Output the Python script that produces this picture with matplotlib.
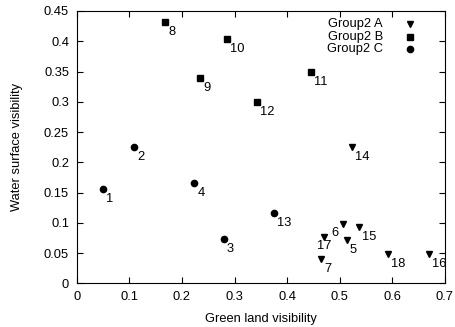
import matplotlib
matplotlib.use("Agg")
import matplotlib.pyplot as plt
from matplotlib.lines import Line2D

# Group2 A (triangles)
a_ids = [5, 6, 7, 14, 15, 16, 17, 18]
a_x = [0.513, 0.506, 0.465, 0.524, 0.536, 0.670, 0.470, 0.592]
a_y = [0.0714, 0.0973, 0.0406, 0.2254, 0.0924, 0.0483, 0.0769, 0.0489]
# Group2 B (squares)
b_ids = [8, 9, 10, 11, 12]
b_x = [0.168, 0.235, 0.285, 0.445, 0.343]
b_y = [0.4317, 0.340, 0.404, 0.350, 0.300]
# Group2 C (circles)
c_ids = [1, 2, 3, 4, 13]
c_x = [0.0506, 0.109, 0.280, 0.2236, 0.3745]
c_y = [0.156, 0.2254, 0.0726, 0.165, 0.1165]

series_names = ['Group2 A', 'Group2 B', 'Group2 C']
xticks = [0, 0.1, 0.2, 0.3, 0.4, 0.5, 0.6, 0.7]
yticks = [0, 0.05, 0.1, 0.15, 0.2, 0.25, 0.3, 0.35, 0.4, 0.45]

plt.rcParams['font.family'] = ['Liberation Sans', 'DejaVu Sans']
fs = 9.3
ms = 4.5

fig = plt.figure(figsize=(4.55, 3.27), dpi=100)
ax = fig.add_axes([0.1686, 0.1336, 0.8092, 0.8328])

markers = ['v', 's', 'o']
ax.plot(a_x, a_y, linestyle='none', marker='v', color='black', ms=ms)
ax.plot(b_x, b_y, linestyle='none', marker='s', color='black', ms=ms)
ax.plot(c_x, c_y, linestyle='none', marker='o', color='black', ms=ms)

special = {6: (-8, -9), 17: (0, -9.5)}
for ids, xs, ys in [(a_ids, a_x, a_y), (b_ids, b_x, b_y), (c_ids, c_x, c_y)]:
    for i, x, y in zip(ids, xs, ys):
        if i in special:
            dx, dy = special[i]
            ax.annotate(str(i), (x, y), xytext=(dx, dy), textcoords='offset pixels',
                        ha='center', va='center', fontsize=fs)
        else:
            ax.annotate(str(i), (x, y), xytext=(3, -10), textcoords='offset pixels',
                        ha='left', va='center', fontsize=fs)

# gnuplot-style legend: right-aligned text, marker at right
leg_y = [0.952, 0.906, 0.859]
for name, m, yy in zip(series_names, markers, leg_y):
    ax.text(0.832, yy, name, transform=ax.transAxes, ha='right', va='center', fontsize=fs)
    ax.add_line(Line2D([0.905], [yy], transform=ax.transAxes, marker=m, color='black',
                       ms=ms, linestyle='none', clip_on=False))

ax.set_xlim(0, 0.7)
ax.set_ylim(0, 0.45)
ax.set_xticks(xticks)
ax.set_yticks(yticks)
ax.set_xticklabels([f"{v:g}" for v in xticks], fontsize=fs)
ax.set_yticklabels([f"{v:g}" for v in yticks], fontsize=fs)
ax.tick_params(direction='in', top=True, right=True, length=4, width=0.8, pad=5.5)
ax.set_xlabel('Green land visibility', fontsize=fs, labelpad=7)
ax.set_ylabel('Water surface visibility', fontsize=fs, labelpad=15)

fig.savefig('out.png', dpi=100)
